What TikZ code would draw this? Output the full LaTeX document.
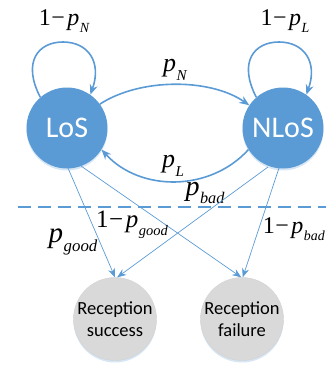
\documentclass[tikz,border=0pt]{standalone}
\usepackage{fontspec}
\setsansfont{Carlito}
\newfontfamily\tms{Liberation Serif}
\usetikzlibrary{arrows.meta,shadows}
\definecolor{mblue}{HTML}{5B9BD5}
\definecolor{mgray}{HTML}{D9D9D9}
\newcommand\sbs[1]{\raisebox{-0.32em}{\scalebox{0.58}{\itshape #1}}}
\newcommand\pv[1]{\textit{p}\kern0.5pt\sbs{#1}}
\newcommand\om{1\kern0.5pt−\kern2.5pt}
\begin{document}
\begin{tikzpicture}[x=1pt,y=-1pt,
  glow/.style={drop shadow={shadow xshift=0pt,shadow yshift=-2pt,fill=mblue,opacity=0.25}},
  state/.style={circle,fill=mblue,minimum size=81pt,inner sep=0pt,text=white,glow,font=\sffamily\fontsize{30}{32}\selectfont},
  outcome/.style={circle,fill=mgray,draw=gray!35,minimum size=83pt,inner sep=0pt,align=center,glow,font=\sffamily\fontsize{18.5}{22}\selectfont},
  arr/.style={draw=mblue,line width=1.6pt,-{Stealth[length=10pt,width=8pt]}},
  thin arr/.style={draw=mblue,line width=0.7pt,-{Stealth[length=9pt,width=7pt]}},
  lbl/.style={inner sep=0pt,font=\tms\fontsize{24}{26}\selectfont}]
\useasboundingbox (0,0) rectangle (326,369);
\node[state] (los) at (67,128) {LoS};
\node[state] (nlos) at (283,128) {NLoS};
\node[outcome] (succ) at (115,319) {Reception\\success};
\node[outcome] (fail) at (242,319) {Reception\\failure};
% self loops
\coordinate (t1) at (63,42);
\coordinate (t2) at (279,42);
\draw[arr] (los.131) .. controls (22,62) and (38,42) .. (t1) .. controls (88,42) and (102,62) .. (los.55);
\draw[arr] (nlos.131) .. controls (238,62) and (254,42) .. (t2) .. controls (304,42) and (318,62) .. (nlos.55);
\node[lbl] (l1) at (64,21) {\om\pv{N}};
\node[lbl] (l2) at (285,21) {\om\pv{L}};
% transitions
\draw[arr] (los.36) .. controls (140,78) and (210,78) .. (nlos.146);
\draw[arr] (nlos.212) .. controls (210,192) and (140,192) .. (los.-32);
\node[lbl,font=\tms\fontsize{26}{28}\selectfont] (pn) at (175,70) {\pv{N}};
\node[lbl,font=\tms\fontsize{26}{28}\selectfont] (pl) at (173,166) {\pv{L}};
\node[lbl,font=\tms\fontsize{28}{30}\selectfont] (pbad) at (205,193) {\pv{bad}};
% dashed line
\coordinate (dl) at (18,207);
\coordinate (dr) at (326,207);
\draw[mblue,line width=1.4pt,dash pattern=on 13pt off 7pt] (dl) -- (dr);
% outcome arrows
\coordinate (a1) at (68,168);
\coordinate (a2) at (81,166);
\coordinate (a3) at (268,167);
\coordinate (a4) at (279,168);
\draw[thin arr] (a1) -- (succ.90);
\draw[thin arr] (a2) -- (fail.91);
\draw[thin arr] (a3) -- (succ.87);
\draw[thin arr] (a4) -- (fail.89);
\node[lbl,font=\tms\fontsize{29}{31}\selectfont] (pg) at (73,242) {\pv{good}};
\node[lbl,font=\tms\fontsize{25}{27}\selectfont] (q1) at (132,225) {\om\pv{good}};
\node[lbl,font=\tms\fontsize{24}{26}\selectfont,anchor=east] (q2) at (325,229) {\om\pv{bad}};
\end{tikzpicture}
\end{document}
